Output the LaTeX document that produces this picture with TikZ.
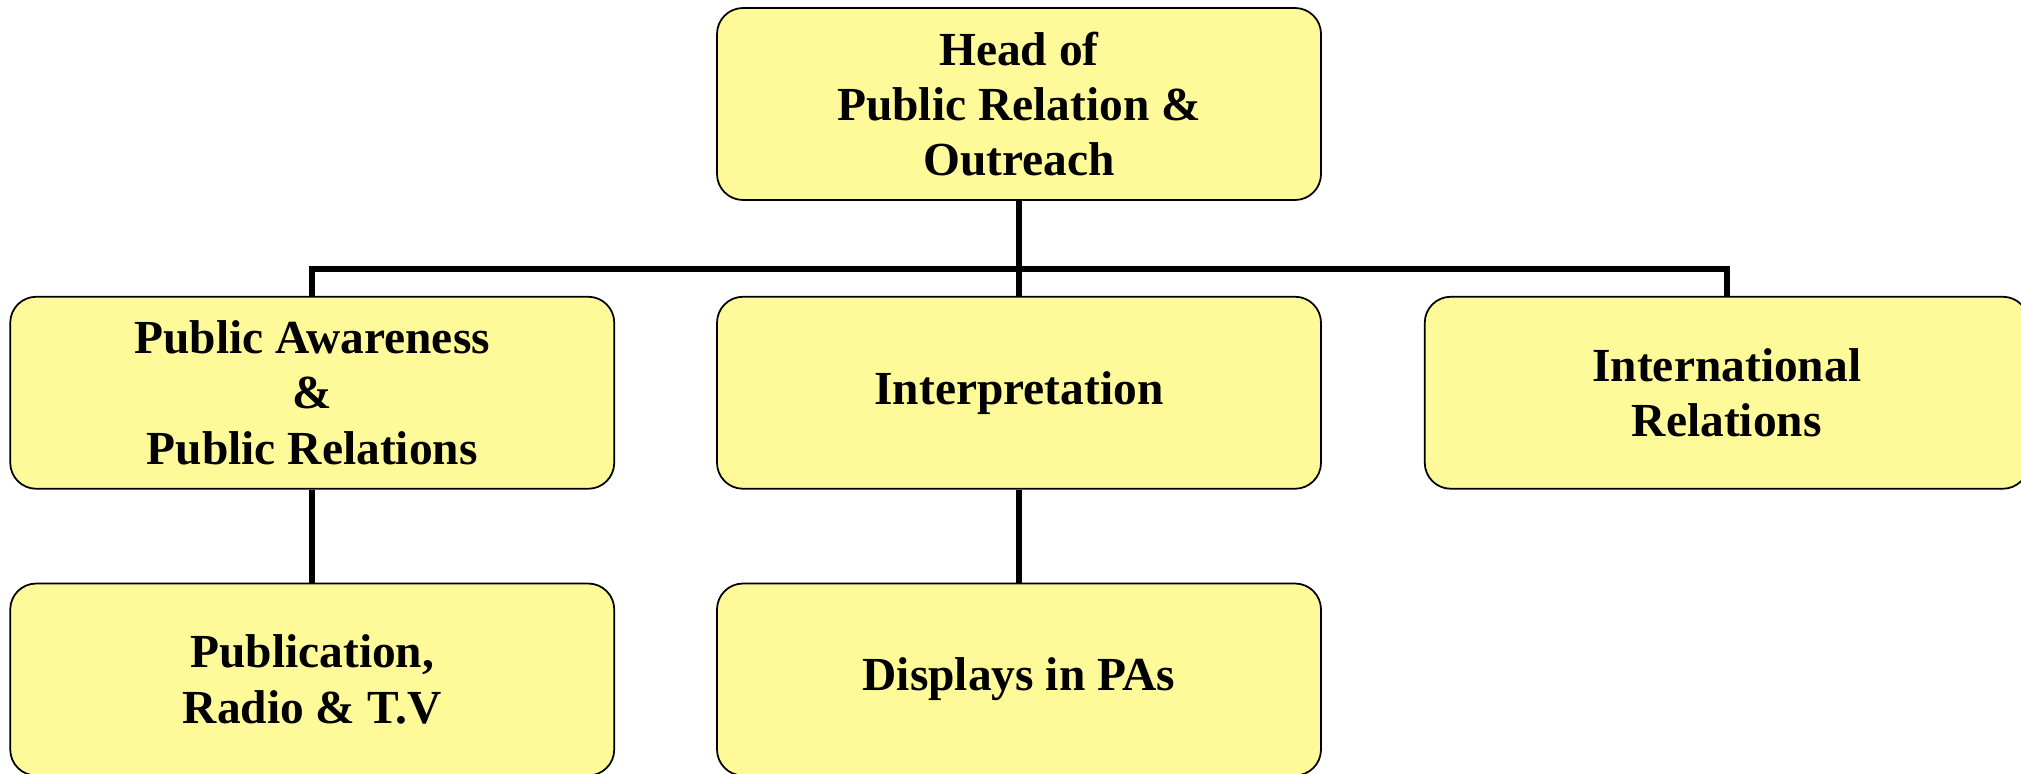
\documentclass[tikz,border=0pt]{standalone}
\usepackage{fontspec}
\setmainfont{Liberation Serif}
\usetikzlibrary{positioning,calc}

\begin{document}
\begin{tikzpicture}[
  unit/.style={rectangle, draw, line width=1pt, rounded corners=0.52cm, fill=yellow!40, align=center, minimum width=12.08cm, minimum height=3.84cm, inner sep=0pt, font=\fontsize{27}{31.5}\selectfont\bfseries},
  link/.style={line width=3.2pt},
]
\useasboundingbox (0,0) rectangle (40.42,-15.48);

% === Top: head of the unit ===
\node[unit] (head) at (20.38,-2.08) {Head of\\Public Relation \&\\Outreach};

% === Second row ===
\node[unit, below=1.9cm of head] (interp) {Interpretation};
\node[unit, left=2.02cm of interp] (aware) {Public Awareness\\\&\\ Public Relations};
\node[unit, right=2.04cm of interp] (intl) {International\\Relations};

% === Third row ===
\node[unit, below=1.86cm of aware] (publ) {Publication,\\Radio \& T.V};
\node[unit, below=1.86cm of interp] (disp) {Displays in PAs};

% === Connectors ===
\coordinate (bus) at ($(head.south)!0.72!(interp.north)$);
\draw[link] (head.south) -- (bus) -- (interp.north);
\draw[link] (aware.north) |- (bus) -| (intl.north);
\draw[link] (aware.south) -- (publ.north);
\draw[link] (interp.south) -- (disp.north);

\end{tikzpicture}
\end{document}
